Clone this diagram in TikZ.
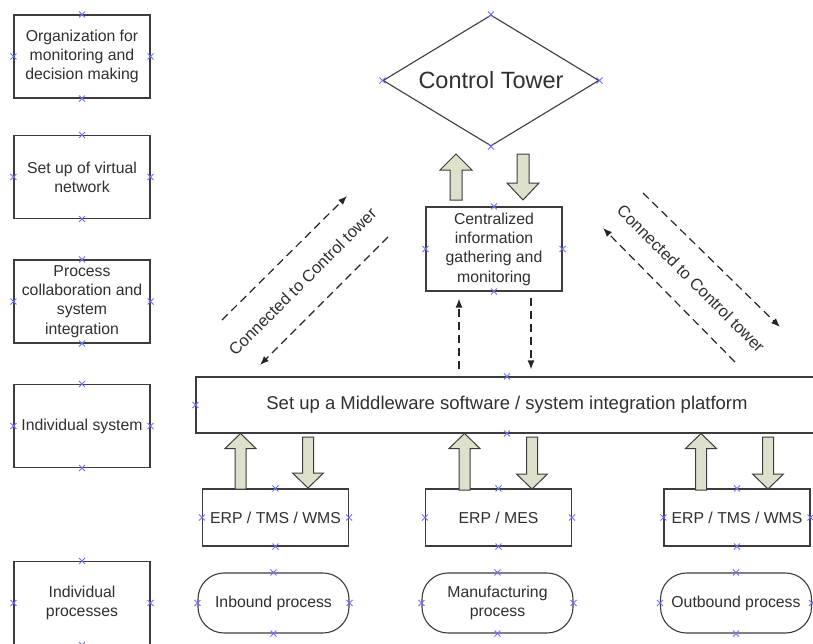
\documentclass[tikz,border=0pt]{standalone}
\usepackage{fontspec}
\setmainfont{Liberation Sans}
\usetikzlibrary{shapes.geometric,calc,arrows.meta}
\definecolor{ln}{HTML}{3C3C3C}
\definecolor{tx}{HTML}{303030}
\definecolor{bfill}{HTML}{DDE1CC}
\definecolor{mk}{HTML}{7070FF}
\newcommand\mkat[1]{\draw[mkst] (#1) ++(-3pt,-3pt) -- ++(6pt,6pt) (#1) ++(-3pt,3pt) -- ++(6pt,-6pt);}
\newcommand\mkall[1]{\mkat{#1.north}\mkat{#1.south}\mkat{#1.east}\mkat{#1.west}}
\newcommand\uparr[3]{% x, ybottom, ytop (px, y down)
  \draw[blk] (#1-5.5,#2) -- (#1-5.5,#3+15) -- (#1-15.5,#3+15) -- (#1,#3) -- (#1+15.5,#3+15) -- (#1+5.5,#3+15) -- (#1+5.5,#2) -- cycle;}
\newcommand\downarr[3]{% x, ytop, ybottom
  \draw[blk] (#1-5.5,#2) -- (#1-5.5,#3-15) -- (#1-15.5,#3-15) -- (#1,#3) -- (#1+15.5,#3-15) -- (#1+5.5,#3-15) -- (#1+5.5,#2) -- cycle;}
\begin{document}
\begin{tikzpicture}[x=1pt,y=-1pt,
  box/.style={draw=ln,line width=1.1pt,fill=white,align=center,text=tx,inner sep=0pt,font=\fontsize{15.8}{19.3}\selectfont},
  lbox/.style={box,minimum width=136pt,minimum height=83pt},
  erpbox/.style={box,minimum width=146pt,minimum height=57pt},
  proc/.style={box,rounded corners=26pt,minimum width=151pt,minimum height=60pt},
  blk/.style={draw=ln,line width=1pt,fill=bfill,line join=miter},
  dasharrow/.style={draw=black!85,line width=1.2pt,dash pattern=on 8pt off 5pt,-{Latex[length=9pt,width=7pt]}},
  mkst/.style={draw=mk,line width=0.9pt},
  lbl/.style={text=tx,font=\fontsize{16.5}{19}\selectfont,inner sep=0pt}]
\clip (0,0) rectangle (813,643);
\fill[white] (0,0) rectangle (813,643);
% left column
\node[lbox] (l1) at (82,56.5) {Organization for\\monitoring and\\decision making};
\node[lbox] (l2) at (82,177) {Set up of virtual\\network};
\node[lbox] (l3) at (82,301.5) {Process\\collaboration and\\system\\integration};
\node[lbox] (l4) at (82,426) {Individual system};
\node[lbox] (l5) at (82,603) {Individual\\processes};
% control tower
\node[draw=ln,line width=1.1pt,shape=diamond,aspect=1.65,inner sep=0pt,minimum width=216pt,minimum height=131pt,text=tx,font=\fontsize{23.5}{26}\selectfont] (ct) at (491,80.5) {Control Tower};
\node[box,minimum width=136pt,minimum height=84pt] (cent) at (494,249) {Centralized\\information\\gathering and\\monitoring};
\node[box,minimum width=622pt,minimum height=56pt,font=\fontsize{18.5}{22}\selectfont] (mw) at (507,405) {Set up a Middleware software / system integration platform};
% systems
\node[erpbox] (e1) at (275.5,517.5) {ERP / TMS / WMS};
\node[erpbox] (e2) at (498.5,517.5) {ERP / MES};
\node[erpbox] (e3) at (737,517.5) {ERP / TMS / WMS};
% processes
\node[proc] (p1) at (273.5,603) {Inbound process};
\node[proc] (p2) at (497.5,603) {Manufacturing\\process};
\node[proc] (p3) at (736,603) {Outbound process};
% block arrows
\draw[blk] (450,200) -- (450,170) -- (440,170) -- (456,154) -- (472,170) -- (462,170) -- (462,200) -- cycle;
\draw[blk] (517,154) -- (517,183) -- (507,183) -- (523,200) -- (539,183) -- (529,183) -- (529,154) -- cycle;
\uparr{240.5}{489}{433.5}
\downarr{308}{437}{488}
\uparr{464.5}{490}{433.5}
\downarr{532}{437}{489}
\uparr{701}{490}{433.5}
\downarr{768}{437}{489}
% dashed connectors
\coordinate (xa) at (459,0);
\coordinate (xb) at (531,0);
\draw[dasharrow] ($(mw.north -| xa)+(0,-7)$) -- ($(cent.south -| xa)+(0,7)$);
\draw[dasharrow] ($(cent.south -| xb)+(0,6)$) -- ($(mw.north -| xb)+(0,-7)$);
\coordinate (a1s) at (222,320); \coordinate (a1e) at (347,196);
\coordinate (a2s) at (388,237); \coordinate (a2e) at (260,365);
\coordinate (a3s) at (643,193); \coordinate (a3e) at (780,327);
\coordinate (a4s) at (735,362); \coordinate (a4e) at (603,228);
\draw[dasharrow] (a1s) -- (a1e);
\draw[dasharrow] (a2s) -- (a2e);
\draw[dasharrow] (a3s) -- (a3e);
\draw[dasharrow] (a4s) -- (a4e);
\node[lbl,rotate=45] (t1) at (302.5,281.5) {Connected to Control tower};
\node[lbl,rotate=-45] (t2) at (691,278.5) {Connected to Control tower};
% connection point markers
\mkall{l1}\mkall{l2}\mkall{l3}\mkall{l4}\mkall{l5}
\mkall{ct}\mkall{cent}
\mkat{mw.north}\mkat{mw.south}\mkat{mw.west}
\mkall{e1}\mkall{e2}\mkall{e3}
\mkall{p1}\mkall{p2}\mkall{p3}
\end{tikzpicture}
\end{document}
